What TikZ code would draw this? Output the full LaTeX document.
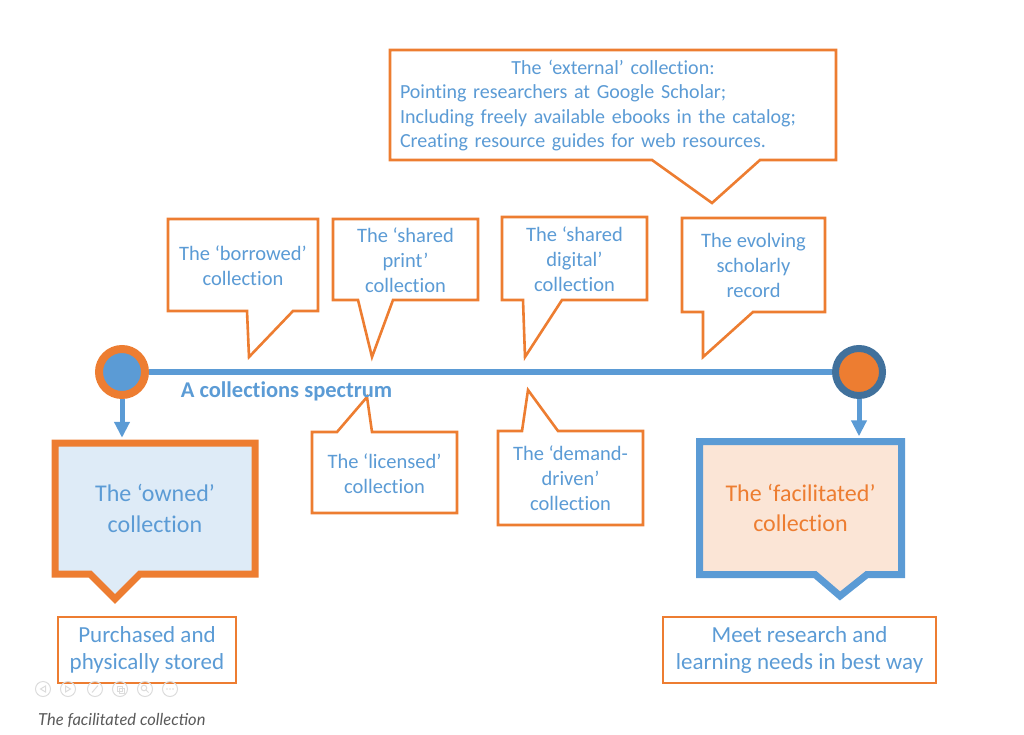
\documentclass[tikz,border=0pt]{standalone}
\usepackage{fontspec}
\setmainfont{Carlito}[Ligatures=NoCommon]
\newfontfamily\capfont{Lato}
\usetikzlibrary{arrows.meta}
\definecolor{obl}{HTML}{5B9BD5}
\definecolor{oor}{HTML}{ED7D31}
\definecolor{dbl}{HTML}{41719C}
\definecolor{lbl}{HTML}{DEEBF7}
\definecolor{lor}{HTML}{FBE5D6}
\definecolor{icn}{HTML}{DCDCDC}
\definecolor{capc}{HTML}{595959}
\begin{document}
\begin{tikzpicture}[x=1pt,y=-1pt,
  callout/.style={draw=oor, line width=2.6pt, fill=white, line join=miter},
  ctext/.style={text=obl, font=\fontsize{20.5}{25}\selectfont, align=center, inner sep=0pt},
  bigtext/.style={font=\fontsize{24}{30.5}\selectfont, align=center, inner sep=0pt},
  plainbox/.style={draw=oor, line width=1.5pt, text=obl, font=\fontsize{23}{27}\selectfont, align=center, inner sep=0pt},
  downarrow/.style={draw=obl, line width=5pt, -{Triangle[length=16pt,width=15pt]}, shorten >=5pt},
  icon/.style={draw=icn, line width=1pt}
]
\useasboundingbox (0,0) rectangle (1024,735);

% external callout
\draw[callout] (390,50) -- (836,50) -- (836,160) -- (760,160) -- (712,203) -- (652,160) -- (390,160) -- cycle;
\node[ctext, text width=426pt, align=left, font=\fontsize{20}{24.5}\selectfont] (ext) at (613,105.5)
  {\makebox[426pt][c]{The ‘external’ collection:}\\
   Pointing researchers at Google Scholar;\\
   Including freely available ebooks in the catalog;\\
   Creating resource guides for web resources.};

% upper callouts
\draw[callout] (168,219) -- (318,219) -- (318,311) -- (293,311) -- (249,357) -- (247,311) -- (168,311) -- cycle;
\node[ctext] (bor) at (243,265.5) {The ‘borrowed’\\collection};
\draw[callout] (333,219) -- (478,219) -- (478,300) -- (393,300) -- (372,357) -- (358,300) -- (333,300) -- cycle;
\node[ctext] (spr) at (405.5,260) {The ‘shared\\print’\\collection};
\draw[callout] (502,217) -- (647,217) -- (647,300) -- (562,300) -- (525,357) -- (523,300) -- (502,300) -- cycle;
\node[ctext] (sdg) at (574.5,259.5) {The ‘shared\\digital’\\collection};
\draw[callout] (682,218) -- (825,218) -- (825,312) -- (753,312) -- (703,357) -- (703,312) -- (682,312) -- cycle;
\node[ctext] (evo) at (753.5,265) {The evolving\\scholarly\\record};

% lower callouts
\draw[callout] (312,432) -- (337,432) -- (367,397) -- (372,432) -- (457,432) -- (457,513) -- (312,513) -- cycle;
\node[ctext] (lic) at (384.5,473.5) {The ‘licensed’\\collection};
\draw[callout] (498,431) -- (522,431) -- (528,390) -- (558,431) -- (643,431) -- (643,525) -- (498,525) -- cycle;
\node[ctext] (dem) at (570.5,478) {The ‘demand-\\driven’\\collection};

% spectrum
\node[circle, draw=oor, fill=obl, line width=8pt, minimum size=46pt, inner sep=0pt] (lc) at (122,372) {};
\node[circle, draw=dbl, fill=oor, line width=7pt, minimum size=47pt, inner sep=0pt] (rc) at (859,372) {};
\draw[obl, line width=6pt] (lc.east) -- (rc.west);
\node[text=obl, font=\fontsize{22.5}{26}\selectfont\bfseries, inner sep=0pt] (spec) at (286.5,391) {A collections spectrum};

% owned box
\draw[fill=lbl, draw=oor, line width=7pt, line join=miter] (55,443) -- (255,443) -- (255,574) -- (140,574) -- (115,599) -- (90,574) -- (55,574) -- cycle;
\node[bigtext, text=obl, minimum width=200pt, minimum height=131pt] (own) at (155,508.5) {The ‘owned’\\collection};

% facilitated box
\draw[fill=lor, draw=obl, line width=7pt, line join=miter] (699.5,441.5) -- (901.5,441.5) -- (901.5,574.5) -- (867,574.5) -- (840,596) -- (815,574.5) -- (699.5,574.5) -- cycle;
\node[bigtext, text=oor, minimum width=202pt, minimum height=133pt] (fac) at (800.5,508) {The ‘facilitated’\\collection};

% arrows
\draw[downarrow] (lc.south) -- (lc.south |- own.north);
\draw[downarrow] (rc.south) -- (rc.south |- fac.north);

% bottom boxes
\node[plainbox, minimum width=178pt, minimum height=66pt] (pur) at (147,650) {Purchased and\\physically stored};
\node[plainbox, minimum width=273pt, minimum height=66pt] (meet) at (799.5,650) {Meet research and\\learning needs in best way};

% faint toolbar icons
\foreach \cx in {43,68,95,120,145,170} \draw[icon] (\cx,689) circle (7.5);
\draw[icon] (45.5,686) -- (40.5,689) -- (45.5,692) -- cycle;
\draw[icon] (65.5,686) -- (70.5,689) -- (65.5,692) -- cycle;
\draw[icon] (92,692.5) -- (98,685.5);
\draw[icon] (117,686) rectangle (122,691);
\draw[icon] (119,688) rectangle (124,693);
\draw[icon] (144,688) circle (2.8);
\draw[icon] (146,690) -- (148.5,692.5);
\foreach \dx in {-3,0,3} \fill[icn] (170+\dx,689) circle (0.9);

% caption
\node[anchor=west, inner sep=0pt, text=capc, font=\capfont\itshape\fontsize{16.5}{19}\selectfont] (cap) at (38,720) {The facilitated collection};
\end{tikzpicture}
\end{document}
